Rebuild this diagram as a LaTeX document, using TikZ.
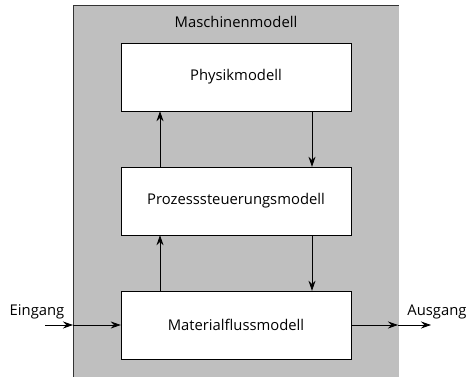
\documentclass[tikz,border=0pt]{standalone}
\usepackage{fontspec}
\setmainfont{Open Sans}
\usetikzlibrary{arrows.meta,calc}

\tikzset{
    schrift/.style={font=\fontsize{14.8}{17}\selectfont},
    modell/.style={draw, fill=white, minimum width=230pt, minimum height=68pt, schrift},
    pfeil/.style={thick, -{Stealth[length=10pt,width=7pt]}}
}

\begin{document}
\begin{tikzpicture}[x=1pt,y=-1pt]
    \useasboundingbox (0,0) rectangle (469,377);
    \fill[black!25] (73,5) rectangle (399,377);
    \draw[black!80] (73,377) -- (73,5) -- (399,5);
    \node[schrift] (titel) at (236,22) {Maschinenmodell};

    \node[modell] (physik) at (236,77) {Physikmodell};
    \node[modell] (prozess) at (236,201) {Prozesssteuerungsmodell};
    \node[modell] (material) at (236,325) {Materialflussmodell};

    % Rueckkopplung zwischen den Modellen
    \draw[pfeil] ([xshift=-76pt]prozess.north) -- ([xshift=-76pt]physik.south);
    \draw[pfeil] ([xshift=76pt]physik.south) -- ([xshift=76pt]prozess.north);
    \draw[pfeil] ([xshift=-76pt]material.north) -- ([xshift=-76pt]prozess.south);
    \draw[pfeil] ([xshift=76pt]prozess.south) -- ([xshift=76pt]material.north);

    % Ein- und Ausgang
    \coordinate (ein) at (45,325);
    \coordinate (einrand) at (73,325);
    \coordinate (ausrand) at (398,325);
    \coordinate (aus) at (431,325);
    \draw[pfeil] (ein) -- (einrand);
    \draw[pfeil] (einrand) -- (material.west);
    \draw[pfeil] (material.east) -- (ausrand);
    \draw[pfeil] (ausrand) -- (aus);
    \node[schrift] (eingang) at (37,312) {Eingang};
    \node[schrift] (ausgang) at (437,312) {Ausgang};
\end{tikzpicture}
\end{document}
